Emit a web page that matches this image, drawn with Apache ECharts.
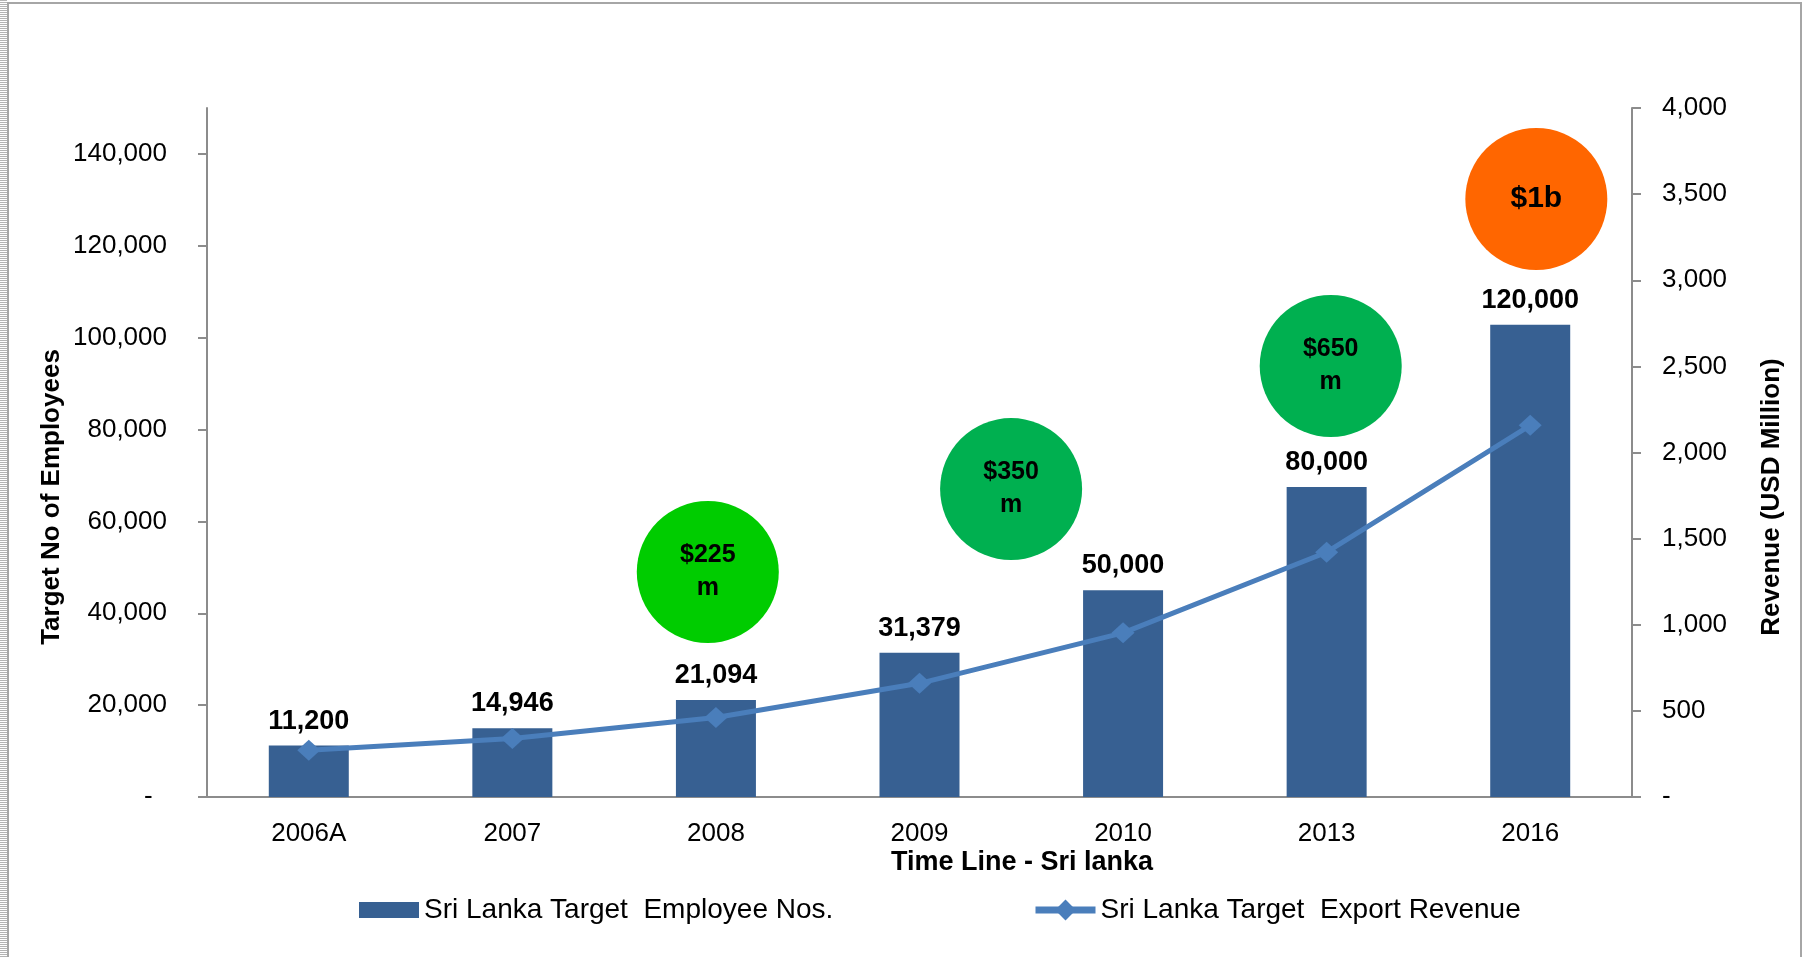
<!DOCTYPE html>
<html>
<head>
<meta charset="utf-8">
<script src="https://cdn.jsdelivr.net/npm/echarts@6/dist/echarts.min.js"></script>
<style>
html, body { margin: 0; padding: 0; background: #fff; }
#chart { width: 1804px; height: 957px; }
</style>
</head>
<body>
<div id="chart"></div>
<script>
// categories + the 2 series
const categories = ['2006A', '2007', '2008', '2009', '2010', '2013', '2016'];
const employees = [11200, 14946, 21094, 31379, 45000, 67500, 102800];
// the printed labels (the last 3 do not match the bar heights in the source)
const employeeLabels = ['11,200', '14,946', '21,094', '31,379', '50,000', '80,000', '120,000'];
const revenue = [272, 340, 462, 660, 953, 1421, 2158];

// tick labels of the left axis (axis runs to 150,000 with no label there)
const leftTicks = [0, 20000, 40000, 60000, 80000, 100000, 120000, 140000];

// revenue bubbles: x in category units, y on the left axis
const bubbleX = [2.46, 3.95, 5.52, 6.53];
const bubbleY = [48985, 67050, 93830, 130190];
const bubbleText = ['$225\nm', '$350\nm', '$650\nm', '$1b'];
const bubbleColors = ['#00CC00', '#00B050', '#00B050', '#FF6600'];
const bubbleFont = [25, 25, 25, 30];

const FONT = "'Liberation Sans', Arial, sans-serif";
const AXIS = '#8c8c8c';

const fmt = (v) => (v === 0 ? '-  ' : v.toLocaleString('en-US'));

// hatch strip at the left edge
const hatch = document.createElement('canvas');
hatch.width = 2;
hatch.height = 2;
const hctx = hatch.getContext('2d');
hctx.fillStyle = '#ffffff';
hctx.fillRect(0, 0, 2, 2);
hctx.fillStyle = '#b4b4b4';
hctx.fillRect(0, 0, 2, 1);

const chart = echarts.init(document.getElementById('chart'), null, { renderer: 'canvas' });

chart.setOption({
	backgroundColor: '#ffffff',
	animation: false,
	textStyle: { fontFamily: FONT },
	grid: { left: 207, right: 172, top: 108, bottom: 160 },
	legend: [
		{
			data: [{ name: 'Sri Lanka Target Employee Nos.', icon: 'rect' }],
			left: 354,
			top: 891,
			itemWidth: 60,
			itemHeight: 16,
			formatter: (n) => n.replace('Target ', 'Target  '),
			textStyle: { fontSize: 28, color: '#000', fontFamily: FONT },
		},
		{
			data: ['Sri Lanka Target Export Revenue'],
			left: 1027,
			top: 891,
			itemWidth: 60,
			itemHeight: 26,
			lineStyle: { width: 7 },
			formatter: (n) => n.replace('Target ', 'Target  '),
			textStyle: { fontSize: 28, color: '#000', fontFamily: FONT },
		},
	],
	xAxis: [
		{
			type: 'category',
			data: categories,
			axisLine: { lineStyle: { color: AXIS, width: 2 } },
			axisTick: { length: 11, lineStyle: { color: AXIS, width: 2 } },
			axisLabel: { fontSize: 26, color: '#000', margin: 24, fontFamily: FONT },
		},
		// hidden value axis for placing the bubbles
		{ type: 'value', min: 0, max: 7, show: false },
	],
	yAxis: [
		{
			type: 'value',
			min: 0,
			max: 150000,
			interval: 20000,
			splitLine: { show: false },
			axisLine: { show: true, lineStyle: { color: AXIS, width: 2 } },
			axisTick: { show: true, length: 9, customValues: leftTicks, lineStyle: { color: AXIS, width: 2 } },
			axisLabel: { fontSize: 26, color: '#000', margin: 40, customValues: leftTicks, formatter: fmt, fontFamily: FONT },
		},
		{
			type: 'value',
			position: 'right',
			min: 0,
			max: 4000,
			interval: 500,
			splitLine: { show: false },
			axisLine: { show: true, lineStyle: { color: AXIS, width: 2 } },
			axisTick: { show: true, length: 9, lineStyle: { color: AXIS, width: 2 } },
			axisLabel: { fontSize: 26, color: '#000', margin: 30, formatter: fmt, fontFamily: FONT },
		},
	],
	series: [
		{
			name: 'Sri Lanka Target Employee Nos.',
			type: 'bar',
			data: employees,
			barWidth: 80,
			itemStyle: { color: '#376092' },
			label: {
				show: true,
				position: 'top',
				distance: 11,
				formatter: (p) => employeeLabels[p.dataIndex],
				fontSize: 27,
				fontWeight: 'bold',
				color: '#000',
				fontFamily: FONT,
			},
		},
		{
			name: 'Sri Lanka Target Export Revenue',
			type: 'line',
			yAxisIndex: 1,
			data: revenue,
			symbol: 'diamond',
			symbolSize: [23, 21],
			lineStyle: { color: '#4A7EBB', width: 5 },
			itemStyle: { color: '#4A7EBB' },
			z: 3,
		},
		{
			name: 'bubbles',
			type: 'scatter',
			xAxisIndex: 1,
			yAxisIndex: 0,
			symbolSize: 142,
			silent: true,
			data: bubbleX.map((x, i) => ({
				value: [x, bubbleY[i]],
				itemStyle: { color: bubbleColors[i], opacity: 1 },
				label: { fontSize: bubbleFont[i] },
			})),
			label: {
				show: true,
				position: 'inside',
				formatter: (p) => bubbleText[p.dataIndex],
				fontWeight: 'bold',
				color: '#000',
				lineHeight: 33,
				fontFamily: FONT,
			},
		},
	],
	graphic: [
		// outer frame + hatch strip
		{ type: 'rect', left: 0, top: 0, shape: { width: 7, height: 957 }, style: { fill: { image: hatch, repeat: 'repeat' } }, silent: true },
		{ type: 'rect', shape: { x: 8, y: 3, width: 1793, height: 970 }, style: { fill: 'none', stroke: '#a6a6a6', lineWidth: 2 }, silent: true },
		// axis titles
		{
			type: 'text', x: 52, y: 497, rotation: Math.PI / 2,
			style: { text: 'Target No of Employees', font: `bold 26px ${FONT}`, fill: '#000', align: 'center', verticalAlign: 'middle' },
		},
		{
			type: 'text', x: 1772, y: 497, rotation: Math.PI / 2,
			style: { text: 'Revenue (USD Million)', font: `bold 26px ${FONT}`, fill: '#000', align: 'center', verticalAlign: 'middle' },
		},
		{
			type: 'text', x: 1022, y: 863,
			style: { text: 'Time Line - Sri lanka', font: `bold 27px ${FONT}`, fill: '#000', align: 'center', verticalAlign: 'middle' },
		},
	],
});
</script>
</body>
</html>
